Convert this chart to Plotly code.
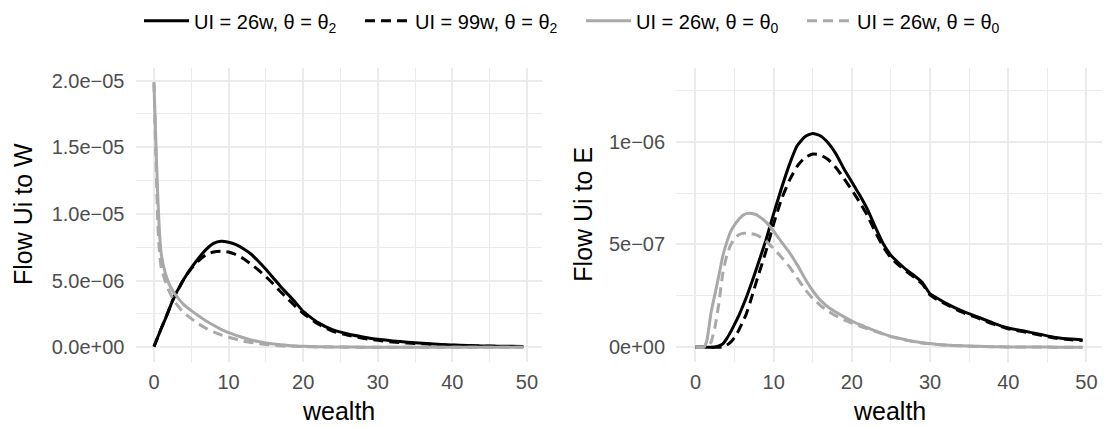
import plotly.graph_objects as go

# ---------------- data (values in units of the axis) ----------------
# Left panel: Flow Ui to W  (values x 1e-6)
wealth_left = [0, 0.25, 0.5, 0.75, 1, 1.5, 2, 2.5, 3, 3.5, 4, 5, 6, 7, 8, 9, 10, 11, 12, 13,
               14, 15, 16, 17, 18, 19, 20, 22, 24, 26, 28, 30, 32, 34, 36, 38, 40, 42, 44, 46, 48, 49.5]
w_ui26_th2 = [0.05, 0.4, 0.75, 1.1, 1.45, 2.1, 2.8, 3.5, 4.1, 4.6, 5.1, 5.95, 6.7, 7.35, 7.8, 7.95, 7.88, 7.7, 7.4, 7.0,
              6.45, 5.85, 5.2, 4.55, 3.95, 3.35, 2.7, 1.85, 1.3, 1.0, 0.78, 0.6, 0.48, 0.38, 0.3, 0.23, 0.17, 0.13, 0.1, 0.08, 0.07, 0.06]
w_ui99_th2 = [0.05, 0.4, 0.75, 1.1, 1.45, 2.1, 2.8, 3.5, 4.1, 4.6, 5.1, 5.9, 6.5, 6.95, 7.15, 7.2, 7.15, 6.95, 6.65, 6.25,
              5.8, 5.3, 4.75, 4.15, 3.6, 3.05, 2.55, 1.75, 1.2, 0.9, 0.68, 0.52, 0.4, 0.32, 0.26, 0.2, 0.15, 0.12, 0.09, 0.07, 0.06, 0.05]
w_ui26_th0 = [19.8, 15.5, 11.5, 8.5, 6.9, 5.6, 4.8, 4.25, 3.85, 3.5, 3.2, 2.75, 2.35, 1.98, 1.65, 1.35, 1.1, 0.9, 0.72, 0.56,
              0.43, 0.33, 0.25, 0.19, 0.14, 0.1, 0.08, 0.05, 0.03, 0.02, 0.01, 0.01, 0.0, 0.0, 0.0, 0.0, 0.0, 0.0, 0.0, 0.0, 0.0, 0.0]
w_ui26_th0b = [19.9, 14.5, 9.5, 7.0, 5.9, 5.0, 4.25, 3.7, 3.25, 2.9, 2.6, 2.15, 1.75, 1.42, 1.15, 0.93, 0.75, 0.6, 0.46, 0.36,
               0.28, 0.21, 0.16, 0.12, 0.09, 0.07, 0.05, 0.03, 0.02, 0.01, 0.0, 0.0, 0.0, 0.0, 0.0, 0.0, 0.0, 0.0, 0.0, 0.0, 0.0, 0.0]

# Right panel: Flow Ui to E  (values x 1e-7)
wealth_right = [0, 1, 1.25, 1.5, 2, 2.5, 3, 3.5, 4, 4.5, 5, 5.5, 6, 6.5, 7, 7.5, 8, 9, 10, 11, 12, 13, 14, 15, 16, 17, 18,
                19, 20, 21, 22, 23, 24, 25, 26, 27, 28, 29, 30, 31, 32, 34, 36, 38, 40, 42, 44, 46, 48, 49.5]
e_ui26_th2 = [0, 0, 0, 0, 0, 0.02, 0.07, 0.17, 0.42, 0.75, 1.12, 1.5, 1.95, 2.42, 2.95, 3.48, 4.05, 5.2, 6.5, 7.73, 8.87, 9.8, 10.24, 10.4, 10.27, 9.92, 9.38,
              8.67, 8.04, 7.4, 6.7, 5.85, 5.05, 4.47, 4.1, 3.76, 3.48, 3.15, 2.6, 2.37, 2.15, 1.78, 1.49, 1.19, 0.94, 0.79, 0.64, 0.48, 0.4, 0.36]
e_ui99_th2 = [0, 0, 0, 0, 0, 0, 0, 0.03, 0.1, 0.25, 0.48, 0.8, 1.2, 1.62, 2.2, 2.83, 3.45, 4.65, 6.0, 7.2, 8.1, 8.8, 9.22, 9.4, 9.35, 9.12, 8.72,
              8.2, 7.65, 7.05, 6.4, 5.6, 4.9, 4.35, 4.0, 3.68, 3.4, 3.08, 2.55, 2.3, 2.1, 1.72, 1.44, 1.14, 0.9, 0.75, 0.6, 0.45, 0.37, 0.33]
e_ui26_th0 = [0, 0, 0.1, 0.4, 1.7, 2.6, 3.5, 4.45, 5.1, 5.62, 5.95, 6.2, 6.4, 6.5, 6.52, 6.48, 6.4, 6.1, 5.65, 5.12, 4.62, 4.02, 3.35, 2.75, 2.28, 1.95, 1.7,
              1.48, 1.28, 1.1, 0.95, 0.8, 0.65, 0.53, 0.44, 0.35, 0.28, 0.22, 0.18, 0.14, 0.11, 0.07, 0.05, 0.03, 0.02, 0.015, 0.01, 0.008, 0.006, 0.005]
e_ui26_th0b = [0, 0, 0, 0, 0.25, 1.0, 2.15, 3.6, 4.45, 4.98, 5.28, 5.46, 5.54, 5.55, 5.53, 5.5, 5.43, 5.17, 4.8, 4.38, 3.92, 3.38, 2.82, 2.38, 2.03, 1.75, 1.52,
               1.33, 1.18, 1.03, 0.9, 0.78, 0.64, 0.52, 0.43, 0.34, 0.27, 0.21, 0.17, 0.13, 0.1, 0.07, 0.04, 0.03, 0.02, 0.015, 0.01, 0.008, 0.006, 0.005]

series_names = ["UI = 26w, θ = θ<sub>2</sub>", "UI = 99w, θ = θ<sub>2</sub>",
                "UI = 26w, θ = θ<sub>0</sub>", "UI = 26w, θ = θ<sub>0</sub>"]
left_series = [w_ui26_th2, w_ui99_th2, w_ui26_th0, w_ui26_th0b]
right_series = [e_ui26_th2, e_ui99_th2, e_ui26_th0, e_ui26_th0b]

left_yticks = [0, 5e-6, 1e-5, 1.5e-5, 2e-5]
left_yticktext = ["0.0e+00", "5.0e\u221206", "1.0e\u221205", "1.5e\u221205", "2.0e\u221205"]
right_yticks = [0, 5e-7, 1e-6]
right_yticktext = ["0e+00", "5e\u221207", "1e\u221206"]
xticks = [0, 10, 20, 30, 40, 50]

# ---------------- styling ----------------
W, H = 1105, 427
FONT = "Liberation Sans, Arial, Helvetica, sans-serif"
styles = [dict(color="#000000", dash="solid"),
          dict(color="#000000", dash="10px,6px"),
          dict(color="#a9a9a9", dash="solid"),
          dict(color="#a9a9a9", dash="10px,6px")]
LW = 3
GRID = "#ebebeb"

fig = go.Figure()
for i, (name, ys) in enumerate(zip(series_names, left_series)):
    fig.add_trace(go.Scatter(x=wealth_left, y=[v * 1e-6 for v in ys], mode="lines", name=name,
                             line=dict(width=LW, shape="spline", smoothing=0.5, **styles[i]),
                             xaxis="x", yaxis="y", legendgroup=str(i), showlegend=True))
for i, (name, ys) in enumerate(zip(series_names, right_series)):
    fig.add_trace(go.Scatter(x=wealth_right, y=[v * 1e-7 for v in ys], mode="lines", name=name,
                             line=dict(width=LW, shape="spline", smoothing=0.5, **styles[i]),
                             xaxis="x2", yaxis="y2", legendgroup=str(i), showlegend=False))

def px_x(p):
    return p / W

def px_y(p):
    return 1 - p / H

panel_top, panel_bot = 68, 361.5
ydom = [px_y(panel_bot), px_y(panel_top)]

tickfont = dict(family=FONT, size=20, color="#4d4d4d")
common_x = dict(tickvals=xticks, ticktext=[str(t) for t in xticks], showgrid=True, gridcolor=GRID, gridwidth=1.5,
                zeroline=False, showline=False, ticks="", tickfont=tickfont, ticklabelstandoff=6,
                minor=dict(tickvals=[5, 15, 25, 35, 45], showgrid=True, gridcolor=GRID, gridwidth=0.9, ticks=""),
                range=[-2.475, 51.975], automargin=False)

fig.update_layout(
    width=W, height=H,
    margin=dict(l=0, r=0, t=0, b=0),
    paper_bgcolor="white", plot_bgcolor="white",
    font=dict(family=FONT),
    xaxis=dict(domain=[px_x(135.5), px_x(541.7)], anchor="y", **common_x),
    xaxis2=dict(domain=[px_x(676.1), px_x(1101.9)], anchor="y2", **common_x),
    yaxis=dict(domain=ydom, anchor="x", range=[-1.065e-6, 20.95e-6], tickvals=left_yticks, ticktext=left_yticktext,
               showgrid=True, gridcolor=GRID, gridwidth=1.5, zeroline=False, showline=False, ticks="",
               tickfont=tickfont, ticklabelstandoff=10, automargin=False,
               minor=dict(tickvals=[2.5e-6, 7.5e-6, 12.5e-6, 17.5e-6], showgrid=True, gridcolor=GRID, gridwidth=0.9, ticks="")),
    yaxis2=dict(domain=ydom, anchor="x2", range=[-0.069e-6, 1.358e-6], tickvals=right_yticks, ticktext=right_yticktext,
                showgrid=True, gridcolor=GRID, gridwidth=1.5, zeroline=False, showline=False, ticks="",
                tickfont=tickfont, ticklabelstandoff=10, automargin=False,
                minor=dict(tickvals=[2.5e-7, 7.5e-7, 12.5e-7], showgrid=True, gridcolor=GRID, gridwidth=0.9, ticks="")),
    legend=dict(orientation="h", x=px_x(139), xanchor="left", y=px_y(20.7), yanchor="middle",
                font=dict(family=FONT, size=20, color="#000000"), itemwidth=45,
                entrywidth=161, entrywidthmode="pixels", bgcolor="rgba(0,0,0,0)", borderwidth=0,
                tracegroupgap=0),
    showlegend=True,
)

title_font = dict(family=FONT, size=25, color="#000000")
annots = [
    dict(text="wealth", x=px_x((135.5 + 541.7) / 2), y=px_y(411), xanchor="center", yanchor="middle"),
    dict(text="wealth", x=px_x((676.1 + 1101.9) / 2), y=px_y(411), xanchor="center", yanchor="middle"),
    dict(text="Flow Ui to W", x=px_x(23), y=px_y(214), xanchor="center", yanchor="middle", textangle=-90),
    dict(text="Flow Ui to E", x=px_x(582.7), y=px_y(214), xanchor="center", yanchor="middle", textangle=-90),
]
for a in annots:
    fig.add_annotation(xref="paper", yref="paper", showarrow=False, font=title_font, **a)

fig.write_html("out.html")
